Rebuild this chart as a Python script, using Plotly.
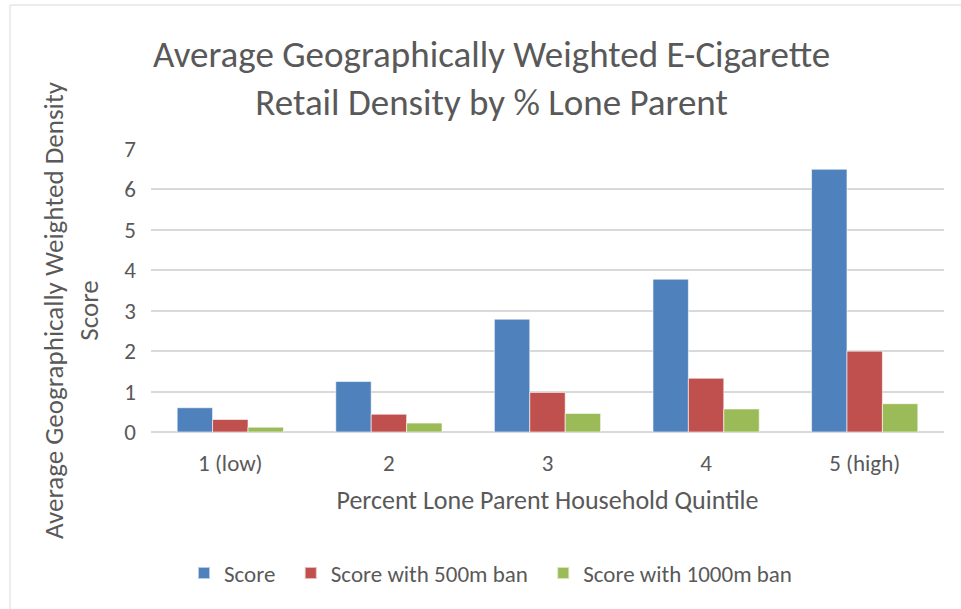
import plotly.graph_objects as go

categories = ["1 (low)", "2", "3", "4", "5 (high)"]
score = [0.60, 1.25, 2.79, 3.78, 6.50]
score_500m = [0.31, 0.44, 0.98, 1.33, 2.00]
score_1000m = [0.12, 0.22, 0.46, 0.57, 0.70]

series_names = ["Score", "Score with 500m ban", "Score with 1000m ban"]
series_colors = ["#4F81BD", "#C0504D", "#9BBB59"]
y_ticks = [0, 1, 2, 3, 4, 5, 6, 7]

FONT = "Carlito, Lato, sans-serif"
TEXT = "#595959"

W, H = 961, 609
ML, MR, MT, MB = 151, 17, 149, 177
PW, PH = W - ML - MR, H - MT - MB


def px_to_paper_x(px):
    return (px - ML) / PW


def px_to_paper_y(py):
    return (H - MB - py) / PH


fig = go.Figure()
for name, vals, col in zip(series_names, [score, score_500m, score_1000m], series_colors):
    fig.add_trace(go.Bar(
        x=categories, y=vals, name=name + "\u00a0\u00a0",
        marker=dict(color=col, line=dict(color="rgba(255,255,255,0.6)", width=1)),
    ))

fig.update_layout(
    width=W, height=H,
    margin=dict(l=ML, r=MR, t=MT, b=MB),
    paper_bgcolor="white", plot_bgcolor="white",
    barmode="group", bargap=0.33, bargroupgap=0,
    font=dict(family=FONT, color=TEXT, size=20),
    showlegend=True,
    legend=dict(
        orientation="h", x=px_to_paper_x(496), xanchor="center",
        y=px_to_paper_y(573), yanchor="middle",
        font=dict(size=23, color=TEXT), itemsizing="constant",
        traceorder="normal", itemwidth=30,
    ),
    xaxis=dict(
        showgrid=False, showline=False, ticks="",
        tickfont=dict(size=23, color=TEXT), ticklabelstandoff=15,
        title=dict(text="Percent Lone Parent Household Quintile",
                   font=dict(size=26, color=TEXT), standoff=14),
    ),
    yaxis=dict(
        range=[0, 7], tickvals=y_ticks, showgrid=True,
        gridcolor="#d9d9d9", gridwidth=1.5,
        zeroline=True, zerolinecolor="#d9d9d9", zerolinewidth=1.5,
        showline=False, ticks="", ticklabelstandoff=14,
        tickfont=dict(size=23, color=TEXT),
    ),
    shapes=[dict(
        type="rect", xref="paper", yref="paper",
        x0=px_to_paper_x(10), x1=px_to_paper_x(975),
        y0=px_to_paper_y(620), y1=px_to_paper_y(5),
        line=dict(color="#d9d9d9", width=1), fillcolor="rgba(0,0,0,0)",
        layer="below",
    )],
    annotations=[
        dict(
            text="Average Geographically Weighted E-Cigarette<br>Retail Density by % Lone Parent",
            xref="paper", yref="paper",
            x=px_to_paper_x(491), y=px_to_paper_y(78),
            xanchor="center", yanchor="middle", showarrow=False,
            font=dict(size=37, color=TEXT, family=FONT), align="center",
        ),
        dict(
            text="Average Geographically Weighted Density<br>Score",
            xref="paper", yref="paper",
            x=px_to_paper_x(71), y=px_to_paper_y(310),
            xanchor="center", yanchor="middle", showarrow=False,
            textangle=-90, align="center",
            font=dict(size=27, color=TEXT, family=FONT),
        ),
    ],
)

fig.write_html("out.html")
